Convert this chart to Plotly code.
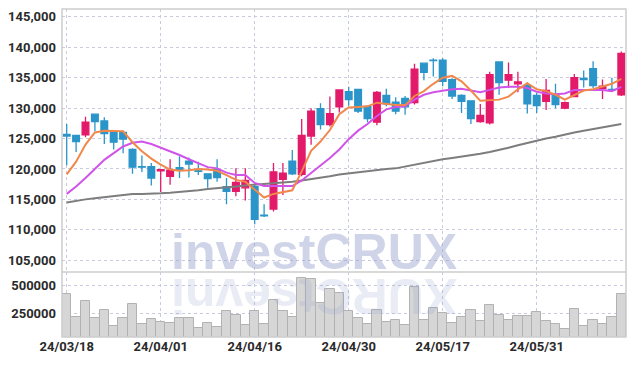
import plotly.graph_objects as go

dates = ["24/03/18","24/03/19","24/03/20","24/03/21","24/03/22","24/03/25","24/03/26","24/03/27","24/03/28","24/03/29",
         "24/04/01","24/04/02","24/04/03","24/04/04","24/04/05","24/04/08","24/04/09","24/04/11","24/04/12","24/04/15",
         "24/04/16","24/04/17","24/04/18","24/04/19","24/04/22","24/04/23","24/04/24","24/04/25","24/04/26","24/04/29",
         "24/04/30","24/05/02","24/05/03","24/05/07","24/05/08","24/05/09","24/05/10","24/05/13","24/05/14","24/05/16",
         "24/05/17","24/05/20","24/05/21","24/05/22","24/05/23","24/05/24","24/05/27","24/05/28","24/05/29","24/05/30",
         "24/05/31","24/06/03","24/06/04","24/06/05","24/06/07","24/06/10","24/06/11","24/06/12","24/06/13","24/06/14"]

open_ = [125700,125500,125600,129000,127900,126000,126000,123200,120400,120400,
         119700,118800,120200,121300,119700,119200,119900,117100,116300,116900,
         117100,112400,113400,118300,121300,119100,125400,129900,127300,130200,
         132700,133100,130300,127700,132100,131000,131600,130900,137400,137900,
         137900,134700,132100,131200,127800,127600,137600,134600,134000,133700,
         132100,131100,132200,130000,131900,134900,136500,133200,133100,132200]
high = [127400,125600,128600,129000,128500,126400,126300,123400,122200,121000,
        120000,121600,122100,121900,121200,119300,121600,118500,120100,120100,
        117700,114200,121000,121000,123100,128200,130000,130800,131900,133100,
        133500,133100,130400,132800,133200,131800,132000,137300,137400,138200,
        138200,134900,132300,131300,130700,136000,137600,137500,136000,134200,
        132500,134800,134000,131100,135600,136200,137700,134700,135000,139300]
low = [120600,122800,125200,126200,124100,123200,122600,119200,119500,117300,
       116200,117400,118500,118600,119000,116900,117900,114200,115500,114800,
       110900,112100,113000,115700,119000,118800,124000,126500,127000,129300,
       130400,129200,127700,127200,130300,129000,128900,130600,134600,135200,
       133600,131500,129200,127400,127600,127300,132200,133300,132600,129100,
       129200,129700,130000,129800,131800,133400,133300,131500,132900,132000]
close = [125400,124500,127700,127800,125800,124400,124900,120300,120300,118500,
         119900,119800,119800,120800,119600,118400,118600,116300,117800,118100,
         111700,112300,119500,119300,119200,125500,129500,127300,129100,133000,
         131400,129500,128300,132600,130700,129500,130200,136400,135900,137800,
         134400,132000,131100,128300,128800,135500,134200,135500,134300,130700,
         130400,132900,130600,130900,135000,134700,133700,133600,133000,139000]

ma5 = [119100,121200,124000,126000,126300,126200,126200,124400,122900,121700,
       120700,119900,119700,119800,120000,119900,119700,119000,118200,117900,
       116600,115300,115900,116200,116500,119600,123000,124500,126400,129000,
       130100,130200,130300,130900,130700,130500,130500,132000,132800,134000,
       135000,135300,134400,132900,131200,131300,131400,131900,133100,134100,
       133100,132800,132200,131400,132200,132900,133100,133600,134000,134800]
ma20 = [115900,117100,118500,120000,121500,122600,123700,124300,124500,124100,
        123500,123000,122300,121600,120900,120300,120100,119400,119000,119000,
        117700,117200,117200,117200,117200,118100,119300,120500,121800,123200,
        124900,126300,127400,128700,129800,130200,130300,131400,132200,132600,
        132900,133100,133200,132900,132600,133000,133400,133500,133500,133300,
        132700,132400,132300,132400,133000,133000,133000,133000,132800,133500]
ma60 = [114500,114800,115000,115200,115400,115600,115800,115900,115900,115900,
        116000,116100,116200,116400,116500,116700,116800,117000,117100,117300,
        117400,117500,117600,117700,117900,118100,118300,118600,118800,119100,
        119300,119500,119700,119800,120000,120100,120400,120800,121100,121400,
        121600,121800,122000,122200,122500,122800,123100,123500,123900,124300,
        124700,125000,125300,125700,126000,126300,126600,126900,127200,127400]

volume = [427000,213000,363000,204000,280000,134000,204000,335000,149000,195000,
          170000,158000,204000,204000,112000,158000,122000,271000,234000,143000,
          271000,152000,372000,271000,216000,574000,563000,341000,471000,433000,
          271000,204000,149000,277000,170000,189000,143000,494000,189000,296000,
          250000,158000,216000,277000,180000,326000,234000,189000,225000,225000,
          259000,180000,152000,103000,289000,134000,189000,152000,216000,427000]

price_ticks = [105000,110000,115000,120000,125000,130000,135000,140000,145000]
vol_ticks = [250000,500000]
vol_ticktext = ["250000","500000"]
x_ticks = dates[::10]

RED = "#e3196a"
BLUE = "#2b95c9"
GRID = "rgb(200,202,222)"
FONT = dict(family="Roboto, Liberation Sans, sans-serif", size=13, color="#2a2a2a", weight="bold")

fig = go.Figure()
fig.add_trace(go.Candlestick(
    x=dates, open=open_, high=high, low=low, close=close,
    increasing=dict(line=dict(color=RED, width=1.3), fillcolor=RED),
    decreasing=dict(line=dict(color=BLUE, width=1.3), fillcolor=BLUE),
    whiskerwidth=0, showlegend=False, xaxis="x", yaxis="y"))
fig.add_trace(go.Scatter(x=dates, y=ma60, mode="lines", line=dict(color="rgb(125,125,125)", width=2),
                         showlegend=False, xaxis="x", yaxis="y"))
fig.add_trace(go.Scatter(x=dates, y=ma20, mode="lines", line=dict(color="rgb(208,84,232)", width=2),
                         showlegend=False, xaxis="x", yaxis="y"))
fig.add_trace(go.Scatter(x=dates, y=ma5, mode="lines", line=dict(color="rgb(240,135,75)", width=2),
                         showlegend=False, xaxis="x", yaxis="y"))
fig.add_trace(go.Bar(x=dates, y=volume, marker=dict(color="rgb(214,214,214)", line=dict(color="rgb(178,178,178)", width=1)),
                     showlegend=False, xaxis="x2", yaxis="y2"))

VOL_FRAC = 65 / 328

fig.update_layout(
    width=634, height=366,
    margin=dict(l=60, r=8, t=9, b=29),
    paper_bgcolor="white", plot_bgcolor="white",
    bargap=0, boxgap=0.05, boxgroupgap=0.25,
    xaxis=dict(domain=[0, 1], anchor="y", type="category", range=[-0.5, 59.5],
               tickvals=x_ticks, showticklabels=False, ticks="",
               showgrid=True, gridcolor=GRID, griddash="dot", gridwidth=1,
               rangeslider=dict(visible=False), showline=False, zeroline=False),
    yaxis=dict(domain=[VOL_FRAC, 1], anchor="x", range=[103060, 146300],
               tickvals=price_ticks, tickformat=",", ticks="",
               showgrid=True, gridcolor=GRID, griddash="dot", gridwidth=1,
               tickfont=FONT, ticklabelstandoff=5, zeroline=False),
    xaxis2=dict(domain=[0, 1], anchor="y2", type="category", range=[-0.5, 59.5],
                tickvals=x_ticks, ticktext=x_ticks, ticks="",
                showgrid=True, gridcolor=GRID, griddash="dot", gridwidth=1,
                tickfont=FONT, zeroline=False),
    yaxis2=dict(domain=[0, VOL_FRAC], anchor="x2", range=[30000, 628000],
                tickvals=vol_ticks, ticktext=vol_ticktext, ticks="",
                showgrid=True, gridcolor=GRID, griddash="dot", gridwidth=1,
                tickfont=FONT, ticklabelstandoff=5, zeroline=False),
    shapes=[
        dict(type="rect", xref="paper", yref="paper", x0=0, x1=1, y0=0, y1=1,
             line=dict(color="rgb(205,205,205)", width=1.5), layer="above"),
        dict(type="line", xref="paper", yref="paper", x0=0, x1=1, y0=VOL_FRAC, y1=VOL_FRAC,
             line=dict(color="rgb(205,205,205)", width=1.5), layer="above"),
    ],
    annotations=[
        dict(text="investCRUX", xref="paper", yref="paper", x=0.447, y=(337 - 252) / 328,
             xanchor="center", yanchor="middle", showarrow=False,
             font=dict(family="Liberation Sans, Arial, sans-serif", size=50, color="rgba(150,160,205,0.45)", weight="bold")),
        dict(text="XURCtsevni", xref="paper", yref="paper", x=0.447, y=(337 - 296) / 328,
             xanchor="center", yanchor="middle", showarrow=False, textangle=180,
             font=dict(family="Liberation Sans, Arial, sans-serif", size=50, color="rgba(150,160,205,0.2)", weight="bold")),
    ],
)

fig.write_html("out.html", post_script="document.body.style.margin='0';",
               config={"displayModeBar": False})
